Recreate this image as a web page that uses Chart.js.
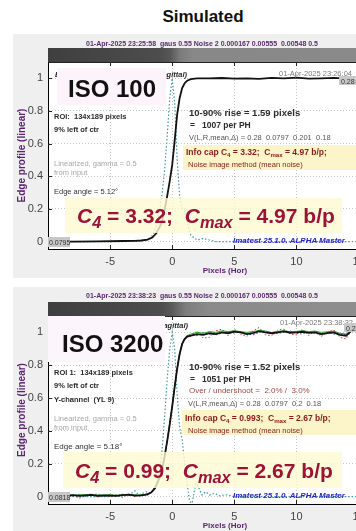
<!DOCTYPE html>
<html>
<head>
<meta charset="utf-8">
<script src="https://cdn.jsdelivr.net/npm/chart.js@4/dist/chart.umd.min.js"></script>
<style>
  html, body { margin: 0; padding: 0; width: 356px; height: 531px; overflow: hidden; background: #fff;
    font-family: "Liberation Sans", Arial, sans-serif; }
  .abs { position: absolute; white-space: nowrap; }
  .panel { position: absolute; left: 13px; width: 400px; background: #efefef; }
  .bar { position: absolute; left: 48px; width: 330px; height: 14px; }
  canvas { position: absolute; left: 0; }
  .box { position: absolute; }
  .lbl { position: absolute; white-space: nowrap; }
</style>
</head>
<body>
<div class="abs" style="left:0;width:406px;top:7px;text-align:center;font-weight:bold;font-size:17px;line-height:20px;color:#111">Simulated</div>

<div class="panel" style="top:34px;height:244px"></div>
<div class="panel" style="top:287px;height:250px"></div>
<div class="bar" style="top:48px;background:linear-gradient(to right,#3f3f3f 0px,#4d4d4d 112px,#565656 122px,#7b7b7b 132px,#888 145px,#8a8a8a 100%)"></div>
<div class="bar" style="top:302px;background:linear-gradient(to right,#3f3f3f 0px,#4d4d4d 114px,#5a5a5a 124px,#7e7e7e 138px,#8a8a8a 160px,#8f8f8f 100%)"></div>

<canvas id="iso100" width="402" height="246" style="top:34px"></canvas>
<canvas id="iso3200" width="402" height="248" style="top:287px"></canvas>

<script>
// ---- ISO 100 edge profile (pixels vs. normalised level) ----
const x100 = [-10, -8, -6, -4, -3, -2.5, -2, -1.6, -1.3, -1.0, -0.8, -0.6, -0.4, -0.2, 0, 0.2, 0.4, 0.6, 0.8, 1.0, 1.2, 1.5, 2, 3, 4, 5, 6, 7, 8, 9, 10, 11, 12, 13, 14, 15, 16, 17, 18.5];
const edge100 = [0, 0, 0.002, 0.004, 0.005, 0.007, 0.012, 0.025, 0.05, 0.09, 0.13, 0.2, 0.28, 0.37, 0.47, 0.62, 0.78, 0.88, 0.94, 0.97, 0.985, 0.995, 1.0, 1.0, 1.002, 0.998, 1.0, 0.997, 1.003, 1.0, 1.004, 0.998, 1.0, 1.003, 0.999, 1.0, 1.0, 1.0, 1.0];

// ISO 100 line spread function
const xLsf100 = [-10, -4, -3, -2.5, -2, -1.75, -1.5, -1.2, -1.0, -0.8, -0.6, -0.4, -0.2, 0, 0.2, 0.4, 0.6, 0.8, 1.0, 1.2, 1.5, 2, 2.5, 3, 3.5, 4, 6, 10, 18.5];
const lsf100 = [0, 0, 0.003, 0.005, 0.01, 0.02, 0.05, 0.12, 0.2, 0.3, 0.45, 0.65, 0.88, 1.0, 0.85, 0.5, 0.28, 0.2, 0.19, 0.12, 0.04, 0.01, 0.02, 0.01, 0, 0, 0, 0, 0];

// ---- ISO 3200 edge profile: R, G, B channels and their mean ----
const x3200 = [-10, -9.5, -9, -8.5, -8, -7.5, -7, -6.5, -6, -5.5, -5, -4.5, -4, -3.5, -3, -2.5, -2,
  -1.7, -1.4, -1.2, -1, -0.8, -0.6, -0.4, -0.2, 0, 0.2, 0.4, 0.6, 0.8, 1, 1.2,
  1.5, 2, 2.5, 3, 3.5, 4, 4.5, 5, 5.5, 6, 6.5, 7, 7.5, 8, 8.5, 9, 9.5, 10, 10.5, 11, 11.5, 12, 12.5, 13, 13.5, 14, 14.5, 15,
  16, 17, 18.5];
const edge3200 = [0.012, 0.008, 0.01, 0.006, 0.009, 0.004, 0.007, 0.01, 0.005, 0.008, 0.006, 0.004, 0.009, 0.012, 0.006, 0.008, 0.014,
  0.025, 0.05, 0.08, 0.12, 0.17, 0.25, 0.34, 0.44, 0.55, 0.67, 0.78, 0.87, 0.93, 0.96, 0.975,
  0.98, 0.99, 0.985, 0.995, 0.99, 1.0, 0.995, 1.005, 1.0, 0.99, 0.995, 1.008, 1.0, 0.995, 1.0, 1.006, 0.998, 1.0, 1.004, 0.997, 1.0, 0.99, 0.996, 1.0, 0.985, 0.98, 1.015, 1.025,
  1.015, 1.0, 1.0];
const red3200 = [0.02, 0.0, 0.015, -0.005, 0.012, -0.01, 0.005, 0.018, -0.004, 0.01, 0.0, 0.012, -0.006, 0.015, 0.0, 0.012, 0.005,
  0.03, 0.04, 0.09, 0.11, 0.18, 0.24, 0.35, 0.43, 0.56, 0.66, 0.79, 0.86, 0.94, 0.95, 0.98,
  0.975, 1.01, 0.965, 0.97, 1.01, 1.02, 0.98, 1.02, 0.99, 0.975, 1.01, 1.03, 0.985, 0.98, 1.015, 1.02, 0.99, 0.985, 1.02, 0.98, 1.01, 0.975, 1.0, 1.015, 0.97, 0.96, 1.02, 1.04,
  1.01, 0.99, 1.01];
const green3200 = [0.01, 0.012, 0.008, 0.011, 0.009, 0.01, 0.012, 0.008, 0.01, 0.009, 0.011, 0.008, 0.01, 0.012, 0.009, 0.01, 0.015,
  0.027, 0.05, 0.08, 0.12, 0.17, 0.25, 0.34, 0.45, 0.55, 0.67, 0.78, 0.87, 0.93, 0.965, 0.98,
  0.99, 1.0, 0.995, 1.005, 1.0, 1.01, 1.005, 1.01, 1.005, 1.0, 1.005, 1.012, 1.008, 1.0, 1.006, 1.01, 1.004, 1.006, 1.01, 1.005, 1.008, 1.0, 1.004, 1.008, 0.995, 0.99, 1.02, 1.03,
  1.02, 1.005, 1.0];
const blue3200 = [0.005, 0.015, 0.0, 0.012, 0.004, 0.014, 0.002, 0.01, 0.016, 0.0, 0.013, 0.003, 0.015, 0.006, 0.012, 0.002, 0.02,
  0.02, 0.055, 0.075, 0.125, 0.165, 0.255, 0.335, 0.445, 0.545, 0.675, 0.775, 0.875, 0.925, 0.965, 0.97,
  0.985, 0.98, 1.0, 0.99, 0.985, 0.995, 1.005, 0.995, 1.005, 0.99, 0.985, 1.0, 1.01, 0.99, 0.995, 1.0, 1.008, 0.995, 0.99, 1.005, 0.995, 0.985, 1.0, 0.99, 0.99, 0.985, 1.01, 1.02,
  1.01, 1.0, 0.995];

// ISO 3200 line spread function (with ringing)
const xLsf3200 = [-10, -5, -4, -3.5, -3, -2.7, -2.4, -2, -1.7, -1.4, -1.2, -1, -0.8, -0.6, -0.4, -0.2, 0, 0.2, 0.4, 0.6, 0.8, 1.0, 1.2, 1.4, 1.6, 1.9, 2.1, 2.4, 2.7, 3.0, 3.4, 3.8, 4.3, 5, 6, 10, 18.5];
const lsf3200 = [0, 0, 0.005, 0.01, 0.035, 0.01, 0.02, 0.03, 0.02, 0.06, 0.1, 0.15, 0.3, 0.5, 0.72, 0.9, 1.0, 0.9, 0.62, 0.42, 0.35, 0.2, 0.08, -0.03, -0.04, 0.08, 0.06, 0.01, 0.03, 0.01, 0.02, 0.005, 0.012, 0, 0, 0, 0];

// Axis ticks
const xTicks = [-5, 0, 5, 10, 15];
const yTicks = [0, 0.2, 0.4, 0.6, 0.8, 1];

const FONT = '"Liberation Sans", Arial, sans-serif';
const pts = (xs, ys) => xs.map((x, i) => ({ x, y: ys[i] }));

// White plot area, frame top edge and inward tick marks
const frame = {
  id: 'frame',
  beforeDraw(c) {
    const a = c.chartArea, g = c.ctx;
    g.save();
    g.fillStyle = '#fff';
    g.fillRect(a.left, a.top, a.right - a.left, a.bottom - a.top);
    g.restore();
  },
  afterDraw(c) {
    const a = c.chartArea, g = c.ctx, sx = c.scales.x, sy = c.scales.y;
    g.save();
    g.strokeStyle = '#222';
    g.lineWidth = 1;
    g.beginPath();
    xTicks.forEach(v => {
      const px = Math.round(sx.getPixelForValue(v)) + 0.5;
      g.moveTo(px, a.bottom); g.lineTo(px, a.bottom - 4);
      g.moveTo(px, a.top); g.lineTo(px, a.top + 4);
    });
    yTicks.forEach(v => {
      const py = Math.round(sy.getPixelForValue(v)) + 0.5;
      g.moveTo(a.left, py); g.lineTo(a.left + 4, py);
    });
    g.moveTo(a.left, a.top + 0.5); g.lineTo(a.right, a.top + 0.5);
    g.stroke();
    g.restore();
  }
};

function line(data, color, width, dash) {
  return { data, showLine: true, borderColor: color, borderWidth: width, borderDash: dash || [],
           pointRadius: 0, fill: false, tension: 0 };
}

function makeChart(id, datasets, padTop) {
  return new Chart(document.getElementById(id), {
    type: 'scatter',
    data: { datasets },
    plugins: [frame],
    options: {
      responsive: false,
      animation: false,
      layout: { padding: { top: padTop, left: 0, right: 0, bottom: 0 } },
      plugins: { legend: { display: false }, tooltip: { enabled: false } },
      scales: {
        x: {
          type: 'linear', min: -10, max: 18.5,
          afterBuildTicks: s => { s.ticks = xTicks.map(v => ({ value: v })); },
          afterFit: s => { s.height = 31; },
          grid: { color: '#c4c4c4', drawTicks: false },
          border: { color: '#000', width: 1, dash: [1, 2] },
          ticks: { color: '#444', font: { size: 11, family: FONT }, padding: 6, autoSkip: false, maxRotation: 0,
                   callback: v => String(v) },
          title: { display: true, text: 'Pixels (Hor)', color: '#5b2470',
                   font: { size: 8, weight: 'bold', family: FONT }, padding: { top: 0, bottom: 4 } }
        },
        y: {
          type: 'linear', min: -0.045, max: 1.1,
          afterBuildTicks: s => { s.ticks = yTicks.map(v => ({ value: v })); },
          afterFit: s => { s.width = 48; },
          grid: { color: '#c4c4c4', drawTicks: false },
          border: { color: '#000', width: 1, dash: [1, 2] },
          ticks: { color: '#444', font: { size: 11, family: FONT }, padding: 5,
                   callback: v => String(Math.round(v * 10) / 10) },
          title: { display: true, text: 'Edge profile (linear)', color: '#5b2470',
                   font: { size: 10, weight: 'bold', family: FONT }, padding: { top: 16, bottom: 0 } }
        }
      }
    }
  });
}

makeChart('iso100', [
  line(pts(x100, edge100), '#111', 1.8),
  line(pts(xLsf100, lsf100), '#3f9a9a', 1.2, [1.5, 2])
], 28);

makeChart('iso3200', [
  line(pts(x3200, edge3200), '#111', 1.8),
  line(pts(x3200, green3200), '#1aa81a', 1),
  line(pts(x3200, blue3200), '#3a3ae0', 1, [1.5, 2]),
  line(pts(x3200, red3200), '#e03030', 1, [1.5, 2]),
  line(pts(xLsf3200, lsf3200), '#3f9a9a', 1.2, [1.5, 2])
], 29);

// ---- text annotations ----
function label(html, x, base, size, style) {
  const d = document.createElement('div');
  d.className = 'lbl';
  d.innerHTML = html;
  d.style.cssText = 'left:' + x + 'px;top:' + (base - size * 0.846).toFixed(1) + 'px;font-size:' + size +
    'px;line-height:' + size + 'px;' + (style || '');
  document.body.appendChild(d);
  return d;
}
function box(x, y, w, h, bg) {
  const d = document.createElement('div');
  d.className = 'box';
  d.style.cssText = 'left:' + x + 'px;top:' + y + 'px;width:' + w + 'px;height:' + h + 'px;background:' + bg + ';';
  document.body.appendChild(d);
}
function spread(left, right, base, size, a, b, style) {
  const d = label('<span>' + a + '</span><span>' + b + '</span>', left, base, size, style);
  d.style.width = (right - left) + 'px';
  d.style.display = 'flex';
  d.style.justifyContent = 'space-between';
}
const sub = s => '<span style="font-size:0.72em;position:relative;top:0.3em">' + s + '</span>';
const bigSub = s => '<span style="font-size:0.78em;position:relative;top:0.28em">' + s + '</span>';

const HEAD = 'font-weight:bold;color:#5a2a6e;';
const BOLD = 'font-weight:bold;color:#2a2a2a;';
const NORM = 'color:#333;';
const LIGHT = 'color:#a8a8a8;';
const INFO = 'font-weight:bold;color:#8b1a1a;';
const INFO2 = 'color:#8b1a1a;';
const BIG = 'font-weight:bold;color:#9e1237;';
const IMA = 'font-weight:bold;font-style:italic;color:#2424c8;';
const DATE = 'color:#7a7a7a;';

function headLine(text, base) {
  const d = label(text, 0, base, 7, HEAD + 'text-align:center;');
  d.style.width = '404px';
}

// ISO 100 panel
headLine('01-Apr-2025 23:25:58&nbsp; gaus 0.55 Noise 2 0.000167 0.00555&nbsp; 0.00548 0.5', 46);
spread(55, 187, 77, 7.5, 'Edge profile', '(Sagittal)', BOLD + 'font-style:italic;');
box(57, 68, 109, 37, '#fdf4fb');
label('ISO 100', 68, 97, 24, 'font-weight:bold;color:#111;');
label('ROI:&nbsp; 134x189 pixels', 54, 119, 7.5, BOLD);
label('9% left of ctr', 54, 132, 7.5, BOLD);
label('Linearized, gamma = 0.5', 54, 166, 7.5, LIGHT);
label('from input', 54, 175, 7.5, LIGHT);
label('Edge angle = 5.12°', 54, 194, 7.5, NORM);
label('01-Apr-2025 23:26:04', 279, 76, 7.5, DATE);
box(339, 76, 22, 9, '#c8c8c8');
label('0.28', 341, 83.5, 7, 'color:#333;');
label('10-90% rise = 1.59 pixels', 189, 116, 9.5, BOLD);
label('=&nbsp;&nbsp; 1007 per PH', 190, 128, 8.5, BOLD);
label('V(L,R,mean,Δ) = 0.28&nbsp; 0.0797&nbsp; 0.201&nbsp; 0.18', 189, 140, 7.5, 'color:#555;');
box(183, 145, 180, 25, '#fbf5c9');
label('Info cap C' + sub('4') + ' = 3.32;&nbsp; C' + sub('max') + ' = 4.97 b/p;', 186, 155, 8.5, INFO);
label('Noise image method (mean noise)', 188, 167, 7.5, INFO2);
box(65, 198, 277, 35, 'rgba(252,250,208,0.8)');
label('<i>C</i>' + bigSub('<i>4</i>') + ' = 3.32;&nbsp; <i>C</i>' + bigSub('<i>max</i>') + ' = 4.97 b/p', 77, 223, 21, BIG);
box(48, 237, 22, 10, '#c8c8c8');
label('0.0795', 49, 245, 7, 'color:#333;');
label('Imatest 25.1.0. ALPHA Master', 233, 244, 8, IMA);

// ISO 3200 panel
headLine('01-Apr-2025 23:38:23&nbsp; gaus 0.55 Noise 2 0.000167 0.00555&nbsp; 0.00548 0.5', 298);
spread(55, 188, 328, 7.5, 'Edge profile', '(Sagittal)', BOLD + 'font-style:italic;');
box(48, 316, 117, 46, '#fdf5fc');
label('ISO 3200', 62, 352, 24, 'font-weight:bold;color:#111;');
label('ROI 1:&nbsp; 134x189 pixels', 54, 375, 7.5, BOLD);
label('9% left of ctr', 54, 388, 7.5, BOLD);
label('Y-channel&nbsp; (YL 9)', 54, 402, 7.5, BOLD);
label('Linearized, gamma = 0.5', 54, 421, 7.5, LIGHT);
label('from input', 54, 430, 7.5, LIGHT);
label('Edge angle = 5.18°', 54, 450, 8, NORM);
label('01-Apr-2025 23:38:32', 280, 325, 7.5, DATE);
box(344, 323, 20, 9, '#c8c8c8');
label('0.2', 346, 330.5, 7, 'color:#333;');
label('10-90% rise = 1.52 pixels', 189, 370, 9.5, BOLD);
label('=&nbsp;&nbsp; 1051 per PH', 190, 382, 8.5, BOLD);
label('Over / undershoot =&nbsp; 2.0% /&nbsp; 3.0%', 189, 394, 8, 'color:#a04848;');
label('V(L,R,mean,Δ) = 0.28&nbsp; 0.0797&nbsp; 0.2&nbsp; 0.18', 188, 406, 7.5, 'color:#555;');
box(182, 410, 180, 25, '#fbf5c9');
label('Info cap C' + sub('4') + ' = 0.993;&nbsp; C' + sub('max') + ' = 2.67 b/p;', 185, 421, 8.5, INFO);
label('Noise image method (mean noise)', 188, 433, 7.5, INFO2);
box(63, 452, 279, 36, 'rgba(252,250,208,0.8)');
label('<i>C</i>' + bigSub('<i>4</i>') + ' = 0.99;&nbsp; <i>C</i>' + bigSub('<i>max</i>') + ' = 2.67 b/p', 75, 478, 21, BIG);
box(48, 492, 22, 10, '#c8c8c8');
label('0.0818', 49, 500, 7, 'color:#333;');
label('Imatest 25.1.0. ALPHA Master', 233, 499, 8, IMA);
</script>
</body>
</html>
